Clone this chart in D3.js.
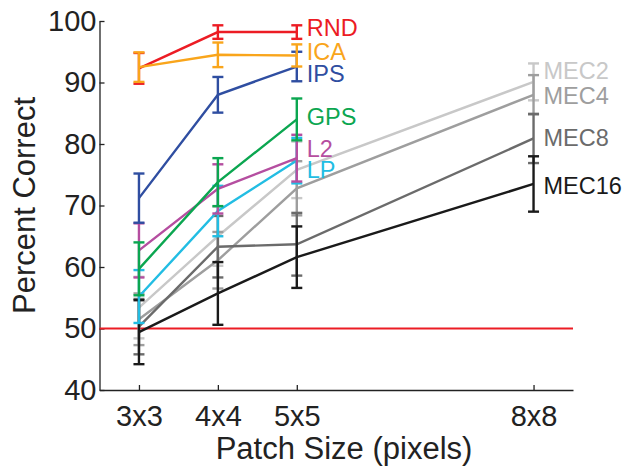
<!DOCTYPE html>
<html>
<head>
<meta charset="utf-8">
<script src="https://cdn.jsdelivr.net/npm/d3@7"></script>
<style>
  body { margin: 0; background: #fff; }
  text { font-family: "Liberation Sans", Arial, sans-serif; }
</style>
</head>
<body>
<div id="chart"></div>
<script>
// patch sizes on the x axis
const sizes      = [3, 4, 5, 8];
const tickLabels = ['3x3', '4x4', '5x5', '8x8'];
const yTicks     = [40, 50, 60, 70, 80, 90, 100];

// series values (percent correct) and error half-widths
const names  = ['MEC2', 'MEC4', 'MEC8', 'MEC16', 'LP', 'L2', 'GPS', 'IPS', 'RND', 'ICA'];
const colors = ['#c8c8c8', '#9e9e9e', '#6b6b6b', '#1a1a1a', '#22bde3', '#b54ea0', '#0ba650', '#2f4ea1', '#ec1c24', '#f9a51b'];
const mec2   = [53.4, 65.0, 75.8, 90.1], mec2Err  = [5.0, 4.8, 4.6, 3.0];
const mec4   = [51.5, 61.1, 72.8, 88.0], mec4Err  = [4.2, 4.6, 4.4, 3.2];
const mec8   = [50.3, 63.3, 63.7, 80.9], mec8Err  = [4.5, 5.0, 5.1, 4.0];
const mec16  = [49.4, 55.7, 61.6, 73.5], mec16Err = [5.2, 5.1, 5.0, 4.5];
const lp     = [55.2, 69.1, 77.3],       lpErr    = [4.3, 4.1, 3.7];
const l2     = [62.7, 72.7, 77.7],       l2Err    = [4.4, 4.0, 3.8];
const gps    = [59.7, 73.8, 84.0],       gpsErr   = [4.3, 3.9, 3.4];
const ips    = [71.2, 88.0, 92.6],       ipsErr   = [4.0, 2.9, 2.4];
const rnd    = [92.3, 98.2, 98.2],       rndErr   = [2.5, 1.1, 1.1];
const ica    = [92.5, 94.5, 94.4],       icaErr   = [2.4, 2.0, 1.8];
// where each name label sits (percent units)
const labelAt = [92.0, 87.8, 81.0, 73.3, 75.8, 79.3, 84.5, 91.4, 98.9, 95.1];
const chance  = 50;

const values = [mec2, mec4, mec8, mec16, lp, l2, gps, ips, rnd, ica];
const errs   = [mec2Err, mec4Err, mec8Err, mec16Err, lpErr, l2Err, gpsErr, ipsErr, rndErr, icaErr];

const W = 630, H = 467;
const svg = d3.select('#chart').append('svg')
  .attr('width', W).attr('height', H);

const x = d3.scaleLinear().domain([2.5, 8.5]).range([99.5, 573]);
const y = d3.scaleLinear().domain([40, 100]).range([390, 21]);

// axes
const gx = svg.append('g')
  .attr('transform', `translate(0,${y(40)})`)
  .call(d3.axisBottom(x).tickValues(sizes).tickFormat((d, i) => tickLabels[i])
    .tickSizeInner(-5).tickSizeOuter(0).tickPadding(15));
const gy = svg.append('g')
  .attr('transform', `translate(${x(2.5)},0)`)
  .call(d3.axisLeft(y).tickValues(yTicks).tickSizeInner(-5).tickSizeOuter(0).tickPadding(3));
[gx, gy].forEach(g => {
  g.select('.domain').attr('stroke', '#222').attr('stroke-width', 1.3);
  g.selectAll('.tick line').attr('stroke', '#222').attr('stroke-width', 1.3);
  g.selectAll('.tick text').attr('fill', '#222').style('font-size', '29px')
    .style('font-family', '"Liberation Sans", Arial, sans-serif');
});

svg.append('text')
  .attr('transform', `translate(35,${(y(40) + y(100)) / 2}) rotate(-90)`)
  .attr('text-anchor', 'middle').attr('fill', '#222')
  .style('font-size', '31px').text('Percent Correct');
svg.append('text')
  .attr('x', 344).attr('y', 459)
  .attr('text-anchor', 'middle').attr('fill', '#222')
  .style('font-size', '31px').text('Patch Size (pixels)');

// chance line
svg.append('line')
  .attr('x1', x(2.5)).attr('x2', x(8.5))
  .attr('y1', y(chance)).attr('y2', y(chance))
  .attr('stroke', '#ec1c24').attr('stroke-width', 2.2);

const line = d3.line().x(d => x(d.s)).y(d => y(d.v));
const capW = 5.5;

names.forEach((name, k) => {
  const pts = values[k].map((v, i) => ({s: sizes[i], v, e: errs[k][i]}));
  const g = svg.append('g').attr('stroke', colors[k]).attr('stroke-width', 2.4).attr('fill', 'none');
  g.append('path').attr('d', line(pts));
  pts.forEach(p => {
    const cx = x(p.s), y0 = y(p.v - p.e), y1 = y(p.v + p.e);
    g.append('line').attr('x1', cx).attr('x2', cx).attr('y1', y0).attr('y2', y1);
    g.append('line').attr('x1', cx - capW).attr('x2', cx + capW).attr('y1', y0).attr('y2', y0);
    g.append('line').attr('x1', cx - capW).attr('x2', cx + capW).attr('y1', y1).attr('y2', y1);
  });
  const last = pts[pts.length - 1];
  svg.append('text')
    .attr('x', x(last.s) + 10).attr('y', y(labelAt[k])).attr('dy', '0.36em')
    .attr('fill', colors[k]).style('font-size', '23.5px').text(name);
});
</script>
</body>
</html>
